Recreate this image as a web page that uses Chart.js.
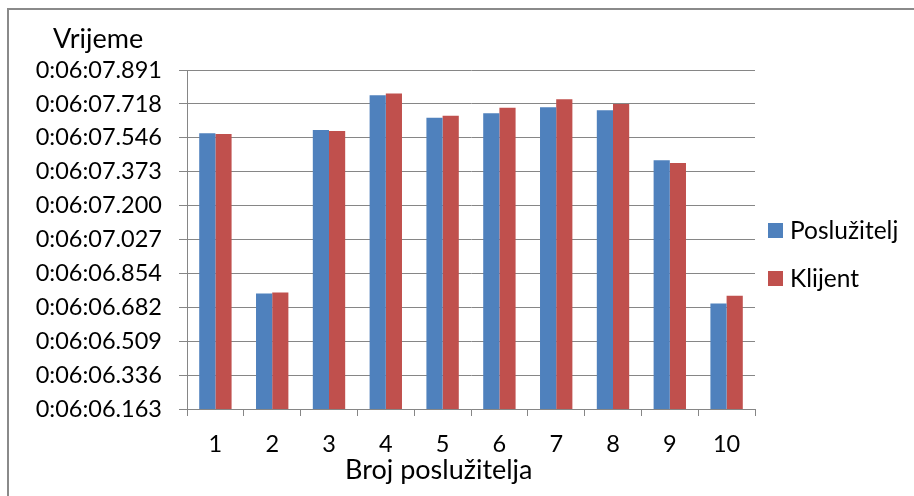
<!DOCTYPE html>
<html>
<head>
<meta charset="utf-8">
<script src="https://cdn.jsdelivr.net/npm/chart.js@4"></script>
<style>
  html, body { margin: 0; padding: 0; background: #fff; width: 914px; height: 496px; overflow: hidden; }
  #frame { position: absolute; left: 7px; top: 8px; width: 940px; height: 520px; border-left: 2px solid #8a8a8a; border-top: 2px solid #8a8a8a; box-sizing: border-box; }
  #wrap { position: absolute; left: 0; top: 0; width: 914px; height: 496px; }
  .txt { position: absolute; font-family: Lato, "Open Sans", sans-serif; color: #000; white-space: nowrap; line-height: 1; }
  .sw { display: inline-block; width: 15px; height: 15px; vertical-align: middle; margin-right: 7px; position: relative; top: -2px; }
</style>
</head>
<body>
<div id="frame"></div>
<div id="wrap"><canvas id="c" width="914" height="496"></canvas></div>
<div class="txt" id="ytitle" style="left:53px; top:24px; font-size:27px;">Vrijeme</div>
<div class="txt" id="xtitle" style="left:345px; top:455px; font-size:27px;">Broj poslužitelja</div>
<div class="txt" style="left:768px; top:218px; font-size:24.5px;"><span class="sw" style="background:#4F81BD"></span>Poslužitelj</div>
<div class="txt" style="left:768px; top:266px; font-size:24.5px;"><span class="sw" style="background:#C0504D"></span>Klijent</div>
<script>
// Categories (server count)
const categories = ['1','2','3','4','5','6','7','8','9','10'];
// Times in seconds (0:06:SS.sss -> 360 + SS.sss)
const posluzitelj = [367.569, 366.752, 367.585, 367.762, 367.647, 367.670, 367.701, 367.686, 367.431, 366.701];
const klijent     = [367.565, 366.757, 367.580, 367.771, 367.658, 367.698, 367.742, 367.718, 367.417, 366.740];
// Y tick labels as shown
const tickLabels = ['0:06:06.163','0:06:06.336','0:06:06.509','0:06:06.682','0:06:06.854','0:06:07.027','0:06:07.200','0:06:07.373','0:06:07.546','0:06:07.718','0:06:07.891'];
const tickValues = tickLabels.map(s => { const p = s.split(':'); return +p[0]*3600 + +p[1]*60 + parseFloat(p[2]); });

const gridColor = '#868686';
const font = { family: 'Lato, "Open Sans", sans-serif', size: 23.5 };

new Chart(document.getElementById('c'), {
  type: 'bar',
  data: {
    labels: categories,
    datasets: [
      { label: 'Poslužitelj', data: posluzitelj, backgroundColor: '#4F81BD', categoryPercentage: 0.57, barPercentage: 1.0 },
      { label: 'Klijent', data: klijent, backgroundColor: '#C0504D', categoryPercentage: 0.57, barPercentage: 1.0 }
    ]
  },
  options: {
    responsive: false,
    animation: false,
    layout: { padding: { left: 0, top: 70, right: 159, bottom: 27 } },
    plugins: { legend: { display: false }, tooltip: { enabled: false } },
    scales: {
      x: {
        afterFit: s => { s.height = 60; },
        grid: { drawOnChartArea: false, drawTicks: true, tickLength: 7, color: gridColor, offset: true },
        border: { color: gridColor, width: 1 },
        ticks: { font: font, color: '#000', padding: 14, maxRotation: 0 }
      },
      y: {
        min: tickValues[0],
        max: tickValues[tickValues.length - 1],
        afterFit: s => { s.width = 187; },
        afterBuildTicks: s => { s.ticks = tickValues.map(v => ({ value: v })); },
        grid: { color: gridColor, lineWidth: 1, drawTicks: true, tickLength: 8 },
        border: { color: gridColor, width: 1 },
        ticks: {
          font: font, color: '#000', padding: 17,
          callback: (v, i) => tickLabels[i]
        }
      }
    }
  }
});
</script>
</body>
</html>
